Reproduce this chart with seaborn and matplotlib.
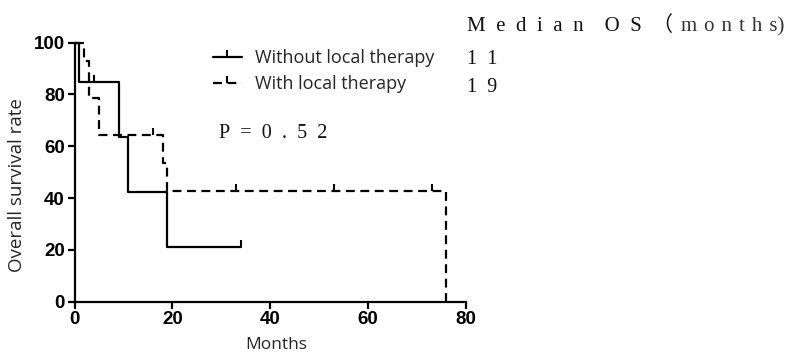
import numpy as np
import pandas as pd
import matplotlib
matplotlib.use("Agg")
import matplotlib.pyplot as plt
from matplotlib.lines import Line2D
import seaborn as sns

# Kaplan-Meier steps (months, % surviving)
without_months = [0, 1, 9, 11, 19, 34]
without_surv = [100, 84.6, 63.5, 42.3, 21.2, 21.2]
without_cens_months = [4, 34]
without_cens_surv = [84.6, 21.2]

with_months = [0, 2, 3, 5, 18, 19, 76]
with_surv = [100, 92.9, 78.6, 64.3, 53.6, 42.9, 0]
with_cens_months = [16, 33, 53, 73]
with_cens_surv = [64.3, 42.9, 42.9, 42.9]

group_labels = ["Without local therapy", "With local therapy"]
median_os = ["11", "19"]
p_value = "0.52"
x_ticks = [0, 20, 40, 60, 80]
y_ticks = [0, 20, 40, 60, 80, 100]

sns.set_theme(style="ticks")
plt.rcParams["font.family"] = ["Open Sans", "DejaVu Sans"]

W, H = 794, 356
fig = plt.figure(figsize=(W / 100, H / 100), dpi=100)
ax = fig.add_axes([74.5 / W, 1 - 301.7 / H, (466 - 74.5) / W, (301.7 - 42.5) / H])

df_wo = pd.DataFrame({"t": without_months, "s": without_surv})
df_w = pd.DataFrame({"t": with_months, "s": with_surv})

dash = (0, (4, 2.5))
sns.lineplot(data=df_wo, x="t", y="s", ax=ax, drawstyle="steps-post", estimator=None,
             sort=False, color="black", lw=1.6, clip_on=False)
sns.lineplot(data=df_w, x="t", y="s", ax=ax, drawstyle="steps-post", estimator=None,
             sort=False, color="black", lw=1.6, linestyle=dash, clip_on=False)

# censor ticks
ax.plot(without_cens_months, without_cens_surv, ls="none", marker=2, ms=5, mew=1.5,
        color="black", clip_on=False)
ax.plot(with_cens_months, with_cens_surv, ls="none", marker=2, ms=5, mew=1.5,
        color="black", clip_on=False)

ax.set_xlim(0, 80)
ax.set_ylim(0, 100)
ax.set_xticks(x_ticks)
ax.set_yticks(y_ticks)
sns.despine(ax=ax)
for sp in ["left", "bottom"]:
    ax.spines[sp].set_linewidth(1.6)
    ax.spines[sp].set_color("black")
ax.tick_params(direction="out", length=5, width=1.6, colors="black", pad=2)
for lab in ax.get_xticklabels() + ax.get_yticklabels():
    lab.set_family("Liberation Sans")
    lab.set_fontweight("bold")
    lab.set_fontsize(13.5)

ax.set_xlabel("Months", fontsize=12.5)
ax.set_ylabel("Overall survival rate", fontsize=13.5)
ax.xaxis.set_label_coords(0.515, -0.135)
ax.yaxis.set_label_coords(-0.125, 0.45)

handles = [
    Line2D([0], [0], color="black", lw=1.6, marker=2, ms=5, mew=1.5),
    Line2D([0], [0], color="black", lw=1.6, ls=dash, marker=2, ms=5, mew=1.5),
]
ax.legend(handles, group_labels, loc="upper left", bbox_to_anchor=(213 / W, 1 - 49 / H),
          bbox_transform=fig.transFigure, frameon=False, fontsize=13, handlelength=1.6,
          handletextpad=0.75, borderpad=0, borderaxespad=0, labelspacing=0.45, numpoints=1)

serif = ["Liberation Serif", "DejaVu Serif", "Noto Sans CJK SC"]
en = "\u2002"
ink = "#111111"
fig.text(467 / W, 1 - 31 / H, en.join("Median") + en * 2 + en.join("OS") + en + "（",
         family=serif, fontsize=15, color=ink, va="baseline")
fig.text(681 / W, 1 - 31 / H, "\u2004".join("months") + ")",
         family=serif, fontsize=15, color="#333333", va="baseline")
for row, val in enumerate(median_os):
    fig.text(467 / W, 1 - (64.5 + 27.5 * row) / H, en.join(val), family=serif,
             fontsize=14.5, color=ink, va="baseline")
fig.text(219 / W, 1 - 138 / H, en.join("P=" + p_value), family=serif,
         fontsize=14.5, color=ink, va="baseline")

fig.savefig("out.png", dpi=100)
